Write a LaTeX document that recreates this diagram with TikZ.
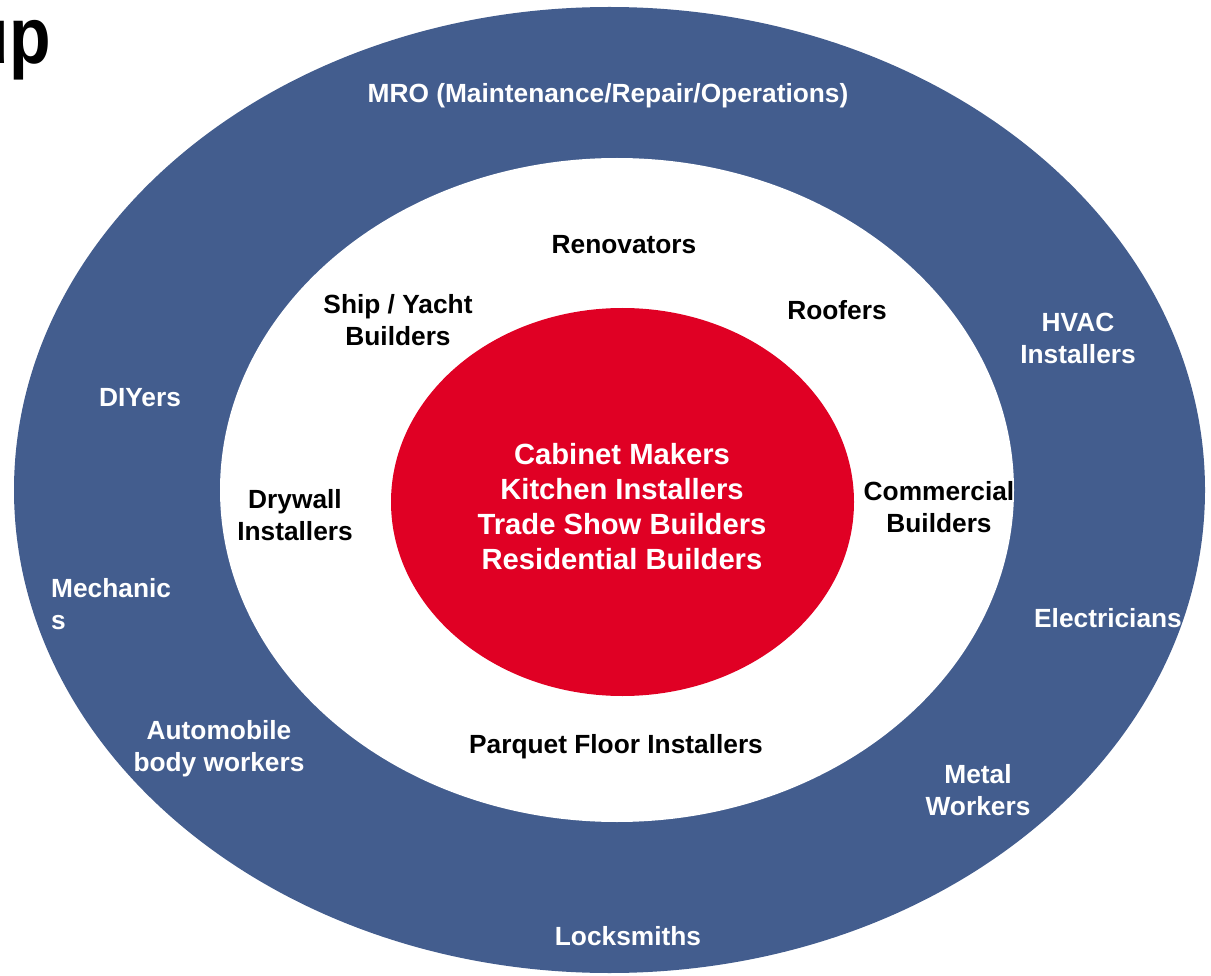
\documentclass[tikz,border=0pt]{standalone}
\usepackage{fontspec}
\setmainfont{Liberation Sans}
\definecolor{ringblue}{RGB}{67,93,142}
\definecolor{corered}{RGB}{224,0,36}
\begin{document}
\begin{tikzpicture}[x=1pt,y=-1pt,
  lbl/.style={font=\fontsize{26.3}{32}\selectfont\bfseries, align=center, inner sep=0pt},
  wlbl/.style={lbl, text=white},
  blbl/.style={lbl, text=black},
  corelbl/.style={font=\fontsize{29.2}{35}\selectfont\bfseries, align=center, inner sep=0pt, text=white}]
\useasboundingbox (0,0) rectangle (1211,976);
\fill[white] (0,0) rectangle (1211,976);
\fill[ringblue] (609.5,490) ellipse [x radius=595.5, y radius=483];
\fill[white] (617,490) ellipse [x radius=397, y radius=332];
\fill[corered] (622.5,502) ellipse [x radius=231.5, y radius=194];
\node[font=\fontsize{80}{80}\selectfont\bfseries, anchor=base east, inner sep=0pt] (title) at (51,64) {\scalebox{0.85}[1]{up}};
\node[wlbl] (mro) at (608,96) {MRO (Maintenance/Repair/Operations)};
\node[blbl] (reno) at (624,245) {Renovators};
\node[blbl] (ship) at (398,320) {Ship / Yacht\\Builders};
\node[blbl] (roof) at (837,310) {Roofers};
\node[wlbl] (hvac) at (1078,338) {HVAC\\Installers};
\node[wlbl] (diy) at (140,398) {DIYers};
\node[blbl] (dry) at (295,515) {Drywall\\Installers};
\node[blbl] (comm) at (939,507) {Commercial\\Builders};
\node[corelbl] (core) at (622,507) {Cabinet Makers\\Kitchen Installers\\Trade Show Builders\\Residential Builders};
\node[wlbl, align=left, anchor=west] (mech) at (51,604) {Mechanic\\s};
\node[wlbl] (elec) at (1108,618) {Electricians};
\node[wlbl] (auto) at (219,749) {Automobile\\body workers};
\node[blbl] (parq) at (616,747) {Parquet Floor Installers};
\node[wlbl] (metal) at (978,790) {Metal\\Workers};
\node[wlbl] (lock) at (628,936) {Locksmiths};
\end{tikzpicture}
\end{document}
